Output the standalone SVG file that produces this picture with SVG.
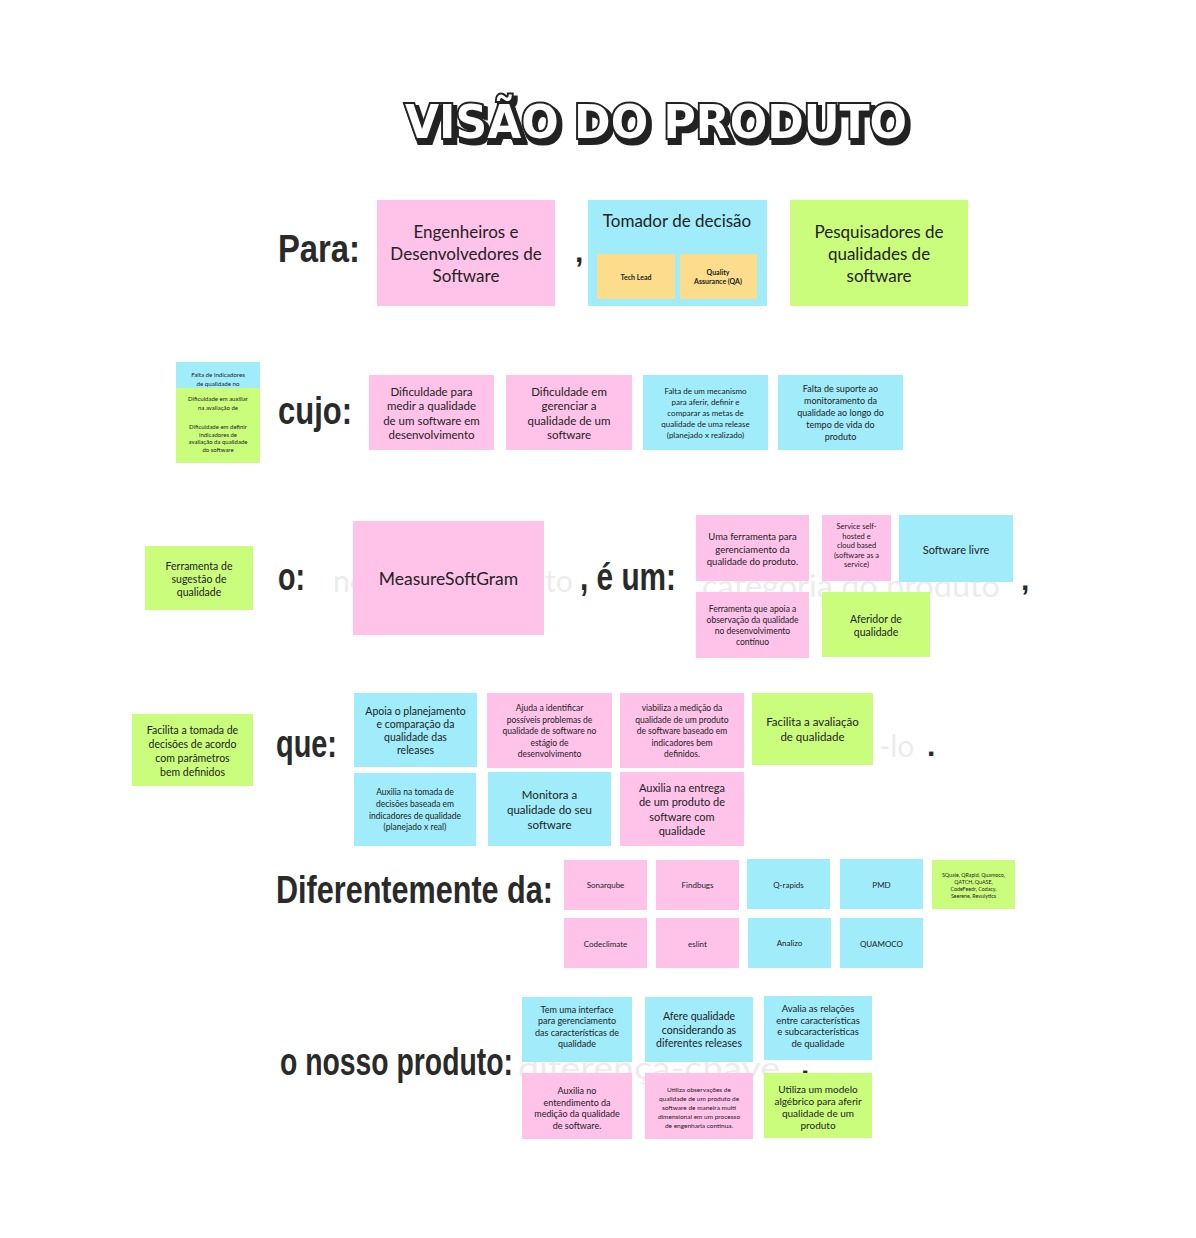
<svg xmlns="http://www.w3.org/2000/svg" width="1196" height="1238" viewBox="0 0 1196 1238">
<style>
.pk{fill:#ffc3ea}
.cy{fill:#a0ecfb}
.gr{fill:#cbfd7c}
.ye{fill:#fcdd8b}
.t{font-family:Lato,"Open Sans","Liberation Sans",sans-serif;fill:#222;text-anchor:middle}
.b{font-weight:bold}
.lbl{font-family:"Liberation Sans",Arial,sans-serif;font-weight:bold;fill:#2a2a2a;font-size:30px}
.ghost{font-family:Lato,"Open Sans",sans-serif;fill:#ececec;font-size:30px}
.title{font-family:"DejaVu Sans","Liberation Sans",sans-serif;font-weight:900;font-size:46px}
</style>
<defs>
<filter id="shadow" x="-5%" y="-30%" width="115%" height="170%">
<feOffset in="SourceAlpha" dx="3" dy="4" result="o"/>
<feMorphology in="o" operator="dilate" radius="1" result="d"/>
<feFlood flood-color="#222"/>
<feComposite in2="d" operator="in" result="s"/>
<feMerge><feMergeNode in="s"/><feMergeNode in="SourceGraphic"/></feMerge>
</filter>
</defs>
<rect width="1196" height="1238" fill="#ffffff"/>

<g id="title">
<text class="title" x="405" y="138" textLength="502" lengthAdjust="spacingAndGlyphs" fill="#ffffff" stroke="#222" stroke-width="4" paint-order="stroke" filter="url(#shadow)">VISÃO DO PRODUTO</text>
</g>

<g id="ghost-texts">
<text class="ghost" x="333" y="592">no</text>
<text class="ghost" x="545" y="592">to</text>
<text class="ghost" x="702" y="597" font-size="24" textLength="298" lengthAdjust="spacingAndGlyphs">categoria do produto</text>
<text class="ghost" x="879" y="757">-lo</text>
<text class="ghost" x="518" y="1079" font-size="21" textLength="262" lengthAdjust="spacingAndGlyphs">diferença-chave</text>
</g>

<g id="labels">
<text class="lbl" transform="translate(278,262) scale(1,1.3)" textLength="82" lengthAdjust="spacingAndGlyphs">Para:</text>
<text class="lbl" x="575" y="262" font-size="18">,</text>
<text class="lbl" transform="translate(278,424) scale(1,1.3)" textLength="74" lengthAdjust="spacingAndGlyphs">cujo:</text>
<text class="lbl" transform="translate(278,590) scale(1,1.3)" textLength="27" lengthAdjust="spacingAndGlyphs">o:</text>
<text class="lbl" transform="translate(580,590) scale(1,1.3)" textLength="96" lengthAdjust="spacingAndGlyphs">, é um:</text>
<text class="lbl" x="1021" y="590" font-size="18">,</text>
<text class="lbl" x="927" y="756" font-size="16">.</text>
<text class="lbl" transform="translate(276,757) scale(1,1.3)" textLength="61" lengthAdjust="spacingAndGlyphs">que:</text>
<text class="lbl" transform="translate(276,903) scale(1,1.3)" textLength="277" lengthAdjust="spacingAndGlyphs">Diferentemente da:</text>
<text class="lbl" transform="translate(280,1075) scale(1,1.3)" textLength="233" lengthAdjust="spacingAndGlyphs">o nosso produto:</text>
<text class="lbl" x="801" y="1075" font-size="9">.</text>
</g>

<!-- Para row -->
<g id="engenheiros">
<rect class="pk" x="377" y="200" width="178" height="106"/>
<text class="t" x="466" y="238" font-size="17"><tspan x="466">Engenheiros e</tspan><tspan x="466" dy="22">Desenvolvedores de</tspan><tspan x="466" dy="22">Software</tspan></text>
</g>
<g id="tomador">
<rect class="cy" x="588" y="200" width="179" height="106"/>
<text class="t" x="677" y="227" font-size="17">Tomador de decisão</text>
</g>
<g id="tech-lead">
<rect class="ye" x="597" y="254" width="78" height="45"/>
<text class="t b" x="636" y="280" font-size="7">Tech Lead</text>
</g>
<g id="qa">
<rect class="ye" x="680" y="254" width="77" height="45"/>
<text class="t b" x="718" y="274.5" font-size="7"><tspan x="718">Quality</tspan><tspan x="718" dy="9">Assurance (QA)</tspan></text>
</g>
<g id="pesquisadores">
<rect class="gr" x="790" y="200" width="178" height="106"/>
<text class="t" x="879" y="238" font-size="17"><tspan x="879">Pesquisadores de</tspan><tspan x="879" dy="22">qualidades de</tspan><tspan x="879" dy="22">software</tspan></text>
</g>

<!-- cujo row -->
<g id="falta-indicadores">
<rect class="cy" x="176" y="362" width="84" height="26"/>
<text class="t" x="218" y="377" font-size="6.2"><tspan x="218">Falta de indicadores</tspan><tspan x="218" dy="8.5">de qualidade no</tspan></text>
</g>
<g id="dificuldade-auxiliar">
<rect class="gr" x="176" y="388" width="84" height="75"/>
<text class="t" x="218" y="401" font-size="6"><tspan x="218">Dificuldade em auxiliar</tspan><tspan x="218" dy="8.5">na avaliação de</tspan><tspan x="218" dy="19">Dificuldade em definir</tspan><tspan x="218" dy="8">indicadores de</tspan><tspan x="218" dy="7.7">avaliação da qualidade</tspan><tspan x="218" dy="7.7">do software</tspan></text>
</g>
<g id="dificuldade-medir">
<rect class="pk" x="369" y="375" width="125" height="75"/>
<text class="t" x="431.5" y="396" font-size="11.5"><tspan x="431.5">Dificuldade para</tspan><tspan x="431.5" dy="14.3">medir a qualidade</tspan><tspan x="431.5" dy="14.3">de um software em</tspan><tspan x="431.5" dy="14.3">desenvolvimento</tspan></text>
</g>
<g id="dificuldade-gerenciar">
<rect class="pk" x="506" y="375" width="126" height="75"/>
<text class="t" x="569" y="396" font-size="11.5"><tspan x="569">Dificuldade em</tspan><tspan x="569" dy="14.3">gerenciar a</tspan><tspan x="569" dy="14.3">qualidade de um</tspan><tspan x="569" dy="14.3">software</tspan></text>
</g>
<g id="falta-mecanismo">
<rect class="cy" x="643" y="375" width="125" height="75"/>
<text class="t" x="705.5" y="394" font-size="8"><tspan x="705.5">Falta de um mecanismo</tspan><tspan x="705.5" dy="11">para aferir, definir e</tspan><tspan x="705.5" dy="11">comparar as metas de</tspan><tspan x="705.5" dy="11">qualidade de uma release</tspan><tspan x="705.5" dy="11">(planejado x realizado)</tspan></text>
</g>
<g id="falta-suporte">
<rect class="cy" x="778" y="375" width="125" height="75"/>
<text class="t" x="840.5" y="392" font-size="9"><tspan x="840.5">Falta de suporte ao</tspan><tspan x="840.5" dy="12">monitoramento da</tspan><tspan x="840.5" dy="12">qualidade ao longo do</tspan><tspan x="840.5" dy="12">tempo de vida do</tspan><tspan x="840.5" dy="12">produto</tspan></text>
</g>

<!-- o row -->
<g id="ferramenta-sugestao">
<rect class="gr" x="145" y="546" width="108" height="64"/>
<text class="t" x="199" y="569.5" font-size="10.5"><tspan x="199">Ferramenta de</tspan><tspan x="199" dy="13">sugestão de</tspan><tspan x="199" dy="13">qualidade</tspan></text>
</g>
<g id="measuresoftgram">
<rect class="pk" x="353" y="521" width="191" height="114"/>
<text class="t" x="448.5" y="585" font-size="17.5">MeasureSoftGram</text>
</g>
<g id="ferramenta-gerenciamento">
<rect class="pk" x="696" y="515" width="113" height="66"/>
<text class="t" x="752.5" y="540" font-size="9.5"><tspan x="752.5">Uma ferramenta para</tspan><tspan x="752.5" dy="12.5">gerenciamento da</tspan><tspan x="752.5" dy="12.5">qualidade do produto.</tspan></text>
</g>
<g id="service">
<rect class="pk" x="822" y="515" width="69" height="66"/>
<text class="t" x="856.5" y="529" font-size="7.5"><tspan x="856.5">Service self-</tspan><tspan x="856.5" dy="9.5">hosted e</tspan><tspan x="856.5" dy="9.5">cloud based</tspan><tspan x="856.5" dy="9.5">(software as a</tspan><tspan x="856.5" dy="9.5">service)</tspan></text>
</g>
<g id="software-livre">
<rect class="cy" x="899" y="515" width="114" height="67"/>
<text class="t" x="956" y="553.5" font-size="11">Software livre</text>
</g>
<g id="ferramenta-observacao">
<rect class="pk" x="696" y="592" width="113" height="66"/>
<text class="t" x="752.5" y="612" font-size="8.5"><tspan x="752.5">Ferramenta que apoia a</tspan><tspan x="752.5" dy="11">observação da qualidade</tspan><tspan x="752.5" dy="11">no desenvolvimento</tspan><tspan x="752.5" dy="11">contínuo</tspan></text>
</g>
<g id="aferidor">
<rect class="gr" x="822" y="592" width="108" height="65"/>
<text class="t" x="876" y="622.5" font-size="10.5"><tspan x="876">Aferidor de</tspan><tspan x="876" dy="13">qualidade</tspan></text>
</g>

<!-- que row -->
<g id="facilita-tomada">
<rect class="gr" x="132" y="714" width="121" height="72"/>
<text class="t" x="192.5" y="733.5" font-size="10.5"><tspan x="192.5">Facilita a tomada de</tspan><tspan x="192.5" dy="14">decisões de acordo</tspan><tspan x="192.5" dy="14">com parâmetros</tspan><tspan x="192.5" dy="14">bem definidos</tspan></text>
</g>
<g id="apoia-planejamento">
<rect class="cy" x="354" y="693" width="123" height="74"/>
<text class="t" x="415.5" y="714.5" font-size="10.5"><tspan x="415.5">Apoia o planejamento</tspan><tspan x="415.5" dy="13">e comparação da</tspan><tspan x="415.5" dy="13">qualidade das</tspan><tspan x="415.5" dy="13">releases</tspan></text>
</g>
<g id="ajuda-identificar">
<rect class="pk" x="487" y="693" width="125" height="75"/>
<text class="t" x="549.5" y="711" font-size="8.5"><tspan x="549.5">Ajuda a identificar</tspan><tspan x="549.5" dy="11.6">possíveis problemas de</tspan><tspan x="549.5" dy="11.6">qualidade de software no</tspan><tspan x="549.5" dy="11.6">estágio de</tspan><tspan x="549.5" dy="11.6">desenvolvimento</tspan></text>
</g>
<g id="viabiliza">
<rect class="pk" x="620" y="693" width="124" height="75"/>
<text class="t" x="682" y="711" font-size="8.5"><tspan x="682">viabiliza a medição da</tspan><tspan x="682" dy="11.6">qualidade de um produto</tspan><tspan x="682" dy="11.6">de software baseado em</tspan><tspan x="682" dy="11.6">indicadores bem</tspan><tspan x="682" dy="11.6">definidos.</tspan></text>
</g>
<g id="facilita-avaliacao">
<rect class="gr" x="752" y="693" width="121" height="72"/>
<text class="t" x="812.5" y="726" font-size="11.5"><tspan x="812.5">Facilita a avaliação</tspan><tspan x="812.5" dy="15">de qualidade</tspan></text>
</g>
<g id="auxilia-tomada">
<rect class="cy" x="354" y="773" width="122" height="73"/>
<text class="t" x="415" y="795" font-size="8.5"><tspan x="415">Auxilia na tomada de</tspan><tspan x="415" dy="11.8">decisões baseada em</tspan><tspan x="415" dy="11.8">indicadores de qualidade</tspan><tspan x="415" dy="11.8">(planejado x real)</tspan></text>
</g>
<g id="monitora">
<rect class="cy" x="488" y="772" width="123" height="74"/>
<text class="t" x="549.5" y="799" font-size="11.5"><tspan x="549.5">Monitora a</tspan><tspan x="549.5" dy="15">qualidade do seu</tspan><tspan x="549.5" dy="15">software</tspan></text>
</g>
<g id="auxilia-entrega">
<rect class="pk" x="620" y="772" width="124" height="74"/>
<text class="t" x="682" y="792" font-size="11"><tspan x="682">Auxilia na entrega</tspan><tspan x="682" dy="14.3">de um produto de</tspan><tspan x="682" dy="14.3">software com</tspan><tspan x="682" dy="14.3">qualidade</tspan></text>
</g>

<!-- Diferentemente row -->
<g id="sonarqube">
<rect class="pk" x="564" y="860" width="83" height="50"/>
<text class="t" x="605.5" y="888" font-size="8">Sonarqube</text>
</g>
<g id="findbugs">
<rect class="pk" x="656" y="860" width="83" height="50"/>
<text class="t" x="697.5" y="888" font-size="8">Findbugs</text>
</g>
<g id="q-rapids">
<rect class="cy" x="747" y="859" width="83" height="50"/>
<text class="t" x="788.5" y="887.5" font-size="8">Q-rapids</text>
</g>
<g id="pmd">
<rect class="cy" x="840" y="859" width="83" height="50"/>
<text class="t" x="881.5" y="887.5" font-size="8">PMD</text>
</g>
<g id="squale">
<rect class="gr" x="932" y="860" width="83" height="49"/>
<text class="t" x="973.5" y="877" font-size="5.3"><tspan x="973.5">SQuale, QRapid, Quamoco,</tspan><tspan x="973.5" dy="7">QATCH, QuASE,</tspan><tspan x="973.5" dy="7">CodeFeedr, Codacy,</tspan><tspan x="973.5" dy="7">Seerene, Revulytics</tspan></text>
</g>
<g id="codeclimate">
<rect class="pk" x="564" y="918" width="83" height="50"/>
<text class="t" x="605.5" y="946.5" font-size="8">Codeclimate</text>
</g>
<g id="eslint">
<rect class="pk" x="656" y="918" width="83" height="50"/>
<text class="t" x="697.5" y="946.5" font-size="8">eslint</text>
</g>
<g id="analizo">
<rect class="cy" x="748" y="918" width="83" height="50"/>
<text class="t" x="789.5" y="946" font-size="8">Analizo</text>
</g>
<g id="quamoco">
<rect class="cy" x="840" y="918" width="83" height="50"/>
<text class="t" x="881.5" y="946.5" font-size="8">QUAMOCO</text>
</g>

<!-- o nosso produto row -->
<g id="interface">
<rect class="cy" x="522" y="997" width="110" height="65"/>
<text class="t" x="577" y="1012.5" font-size="9"><tspan x="577">Tem uma interface</tspan><tspan x="577" dy="11.5">para gerenciamento</tspan><tspan x="577" dy="11.5">das características de</tspan><tspan x="577" dy="11.5">qualidade</tspan></text>
</g>
<g id="afere">
<rect class="cy" x="645" y="997" width="108" height="65"/>
<text class="t" x="699" y="1020" font-size="10.5"><tspan x="699">Afere qualidade</tspan><tspan x="699" dy="13.5">considerando as</tspan><tspan x="699" dy="13.5">diferentes releases</tspan></text>
</g>
<g id="avalia">
<rect class="cy" x="764" y="996" width="108" height="64"/>
<text class="t" x="818" y="1012" font-size="9.5"><tspan x="818">Avalia as relações</tspan><tspan x="818" dy="11.5">entre características</tspan><tspan x="818" dy="11.5">e subcaracterísticas</tspan><tspan x="818" dy="11.5">de qualidade</tspan></text>
</g>
<g id="auxilia-entendimento">
<rect class="pk" x="522" y="1073" width="110" height="66"/>
<text class="t" x="577" y="1094" font-size="9"><tspan x="577">Auxilia no</tspan><tspan x="577" dy="11.5">entendimento da</tspan><tspan x="577" dy="11.5">medição da qualidade</tspan><tspan x="577" dy="11.5">de software.</tspan></text>
</g>
<g id="utiliza-observacoes">
<rect class="pk" x="645" y="1073" width="108" height="66"/>
<text class="t" x="699" y="1091.5" font-size="6.5"><tspan x="699">Utiliza observações de</tspan><tspan x="699" dy="9">qualidade de um produto de</tspan><tspan x="699" dy="9">software de maneira multi</tspan><tspan x="699" dy="9">dimensional em um processo</tspan><tspan x="699" dy="9">de engenharia contínua.</tspan></text>
</g>
<g id="modelo-algebrico">
<rect class="gr" x="764" y="1073" width="108" height="65"/>
<text class="t" x="818" y="1092.5" font-size="10"><tspan x="818">Utiliza um modelo</tspan><tspan x="818" dy="12">algébrico para aferir</tspan><tspan x="818" dy="12">qualidade de um</tspan><tspan x="818" dy="12">produto</tspan></text>
</g>
</svg>
